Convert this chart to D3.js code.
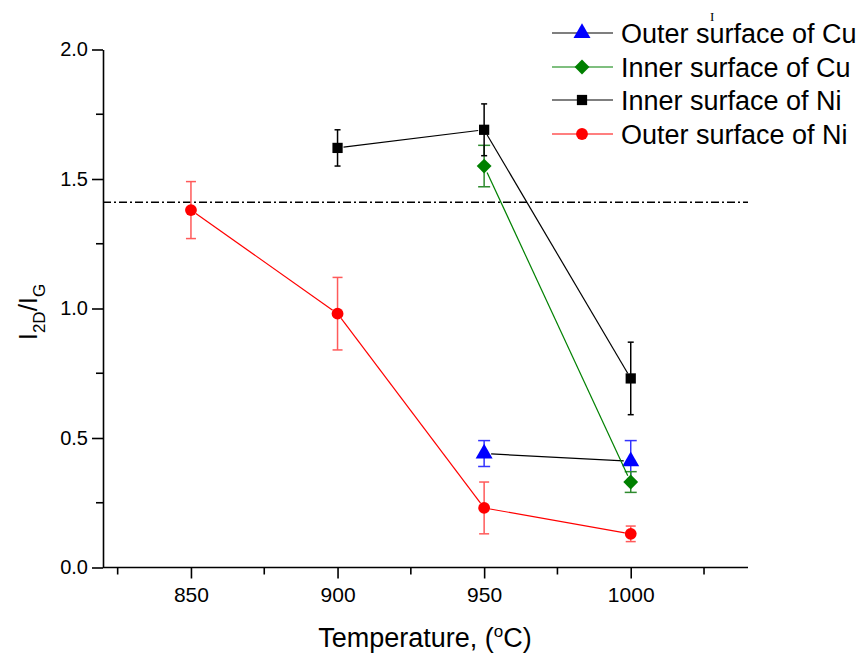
<!DOCTYPE html>
<html>
<head>
<meta charset="utf-8">
<script src="https://cdn.jsdelivr.net/npm/d3@7"></script>
<style>
html,body{margin:0;padding:0;background:#fff;}
svg{display:block;font-family:"Liberation Sans",Arial,sans-serif;}
</style>
</head>
<body>
<svg id="chart" width="861" height="654"></svg>
<script>
// ---- data ----
const temperatures = [850, 900, 950, 1000];
const seriesNames = ["Outer surface of Cu", "Inner surface of Cu", "Inner surface of Ni", "Outer surface of Ni"];
const outerCuX = [950, 1000];
const outerCuY = [0.44, 0.41];
const outerCuErr = [0.05, 0.08];
const innerCuX = [950, 1000];
const innerCuY = [1.55, 0.33];
const innerCuErr = [0.08, 0.04];
const innerNiX = [900, 950, 1000];
const innerNiY = [1.62, 1.69, 0.73];
const innerNiErr = [0.07, 0.10, 0.14];
const outerNiX = [850, 900, 950, 1000];
const outerNiY = [1.38, 0.98, 0.23, 0.13];
const outerNiErr = [0.11, 0.14, 0.10, 0.03];
const referenceLevel = [1.41];
const xTicks = [850, 900, 950, 1000];
const yTicks = [0.0, 0.5, 1.0, 1.5, 2.0];

const svg = d3.select("#chart");
const x = d3.scaleLinear().domain([820, 1040]).range([103, 748]);
const y = d3.scaleLinear().domain([0, 2]).range([567.5, 49.5]);

// axes
const xAxis = d3.axisBottom(x).tickValues(xTicks).tickFormat(d3.format("d")).tickSize(11).tickSizeOuter(0).tickPadding(9);
const gx = svg.append("g").attr("transform", `translate(0,${y(0)})`).call(xAxis);
gx.selectAll("text").style("font-size", "21px").attr("fill", "#000");
gx.select(".domain").attr("stroke", "#000").attr("stroke-width", 1.6).attr("d", `M${x.range()[0]},0H${x.range()[1]}`);
gx.selectAll(".tick line").attr("stroke-width", 1.6);
const xMinor = [825, 875, 925, 975, 1025];
svg.append("g").selectAll("line").data(xMinor).join("line")
  .attr("x1", d => x(d)).attr("x2", d => x(d))
  .attr("y1", y(0)).attr("y2", y(0) + 7).attr("stroke", "#000").attr("stroke-width", 1.6);

const yAxis = d3.axisLeft(y).tickValues(yTicks).tickFormat(d3.format(".1f")).tickSize(11).tickSizeOuter(0).tickPadding(4);
const gy = svg.append("g").attr("transform", `translate(${x(820)},0)`).call(yAxis);
gy.selectAll("text").style("font-size", "20px").attr("fill", "#000");
gy.select(".domain").attr("stroke", "#000").attr("stroke-width", 1.6);
gy.selectAll(".tick line").attr("stroke-width", 1.6);
const yMinor = [0.25, 0.75, 1.25, 1.75];
svg.append("g").selectAll("line").data(yMinor).join("line")
  .attr("x1", x(820)).attr("x2", x(820) - 7)
  .attr("y1", d => y(d)).attr("y2", d => y(d)).attr("stroke", "#000").attr("stroke-width", 1.6);

// reference dash-dot line
svg.append("line")
  .attr("x1", x(820)).attr("x2", x(1040))
  .attr("y1", y(referenceLevel[0])).attr("y2", y(referenceLevel[0]))
  .attr("stroke", "#000").attr("stroke-width", 1.6).attr("stroke-dasharray", "8,3,2,3");

// axis titles
svg.append("text").attr("x", 425).attr("y", 647).attr("text-anchor", "middle")
  .style("font-size", "27px").attr("fill", "#000")
  .html('Temperature, (<tspan dy="-10" style="font-size:17px">o</tspan><tspan dy="10">C)</tspan>');
svg.append("text").attr("transform", "translate(37,312) rotate(-90)").attr("text-anchor", "middle")
  .style("font-size", "26px").attr("fill", "#000")
  .html('I<tspan dy="8" style="font-size:17px">2D</tspan><tspan dy="-8">/I</tspan><tspan dy="8" style="font-size:17px">G</tspan>');

// custom diamond (square rotated 45 degrees)
const squareDiamond = {
  draw(context, size) {
    const r = Math.sqrt(size / 2);
    context.moveTo(0, -r); context.lineTo(r, 0); context.lineTo(0, r); context.lineTo(-r, 0); context.closePath();
  }
};

// series
const series = [
  {xs: outerCuX, ys: outerCuY, err: outerCuErr, line: "#000", mark: "#0000ff", errColor: "#3333ff", sym: d3.symbolTriangle, size: 125, cap: 6, gap: 7},
  {xs: innerCuX, ys: innerCuY, err: innerCuErr, line: "#008000", mark: "#008000", errColor: "#2e8b2e", sym: squareDiamond, size: 110, cap: 6, gap: 7},
  {xs: innerNiX, ys: innerNiY, err: innerNiErr, line: "#000", mark: "#000", errColor: "#000", sym: d3.symbolSquare, size: 105, cap: 3, gap: 6},
  {xs: outerNiX, ys: outerNiY, err: outerNiErr, line: "#ff0000", mark: "#ff0000", errColor: "#ff5a5a", sym: d3.symbolCircle, size: 110, cap: 5, gap: 6}
];

series.forEach(s => {
  const g = svg.append("g");
  const pts = s.xs.map((v, i) => ({px: x(v), py: y(s.ys[i]), e: s.err[i], v: s.ys[i]}));
  // error bars
  pts.forEach(p => {
    const top = y(p.v + p.e), bot = y(p.v - p.e);
    g.append("line").attr("x1", p.px).attr("x2", p.px).attr("y1", top).attr("y2", bot).attr("stroke", s.errColor).attr("stroke-width", 1.5);
    [top, bot].forEach(yy => g.append("line").attr("x1", p.px - s.cap).attr("x2", p.px + s.cap).attr("y1", yy).attr("y2", yy).attr("stroke", s.errColor).attr("stroke-width", 1.5));
  });
  // connecting lines with gaps around markers
  for (let i = 0; i < pts.length - 1; i++) {
    const a = pts[i], b = pts[i + 1];
    const dx = b.px - a.px, dy = b.py - a.py, L = Math.hypot(dx, dy);
    const ux = dx / L, uy = dy / L;
    g.append("line")
      .attr("x1", a.px + ux * s.gap).attr("y1", a.py + uy * s.gap)
      .attr("x2", b.px - ux * s.gap).attr("y2", b.py - uy * s.gap)
      .attr("stroke", s.line).attr("stroke-width", 1.2);
  }
  // markers
  g.selectAll("path").data(pts).join("path")
    .attr("d", d3.symbol().type(s.sym).size(s.size))
    .attr("transform", d => `translate(${d.px},${d.py})`)
    .attr("fill", s.mark);
});

// legend
const legendY = [33, 67, 100, 134];
const lg = svg.append("g");
series.forEach((s, i) => {
  const yy = legendY[i];
  lg.append("line").attr("x1", 552).attr("x2", 613).attr("y1", yy).attr("y2", yy).attr("stroke", s.line).attr("stroke-width", 1.2);
  lg.append("path").attr("d", d3.symbol().type(s.sym).size(s.size)).attr("transform", `translate(582,${yy})`).attr("fill", s.mark);
  lg.append("text").attr("x", 621).attr("y", yy + 9.5).style("font-size", "27px").attr("fill", "#000").text(seriesNames[i]);
});
lg.append("text").attr("x", 710).attr("y", 21).style("font-family", "'Liberation Serif',serif").style("font-size", "13px").attr("fill", "#000").text("I");
</script>
</body>
</html>
